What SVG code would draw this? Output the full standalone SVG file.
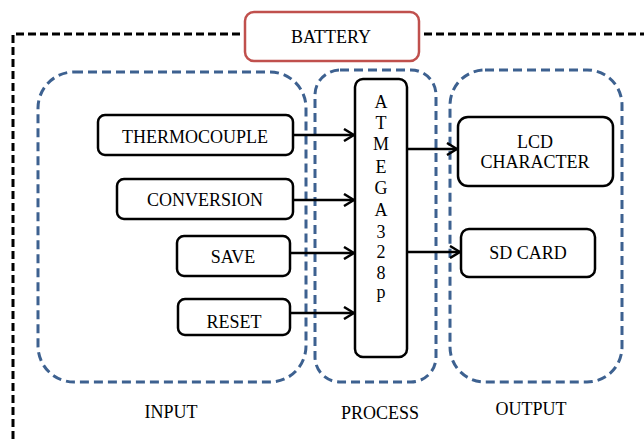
<svg xmlns="http://www.w3.org/2000/svg" width="644" height="439" viewBox="0 0 644 439">
<defs>
<style>
.t{font-family:"Liberation Serif","Times New Roman",serif;font-size:18px;fill:#000;text-anchor:middle}
.grp{fill:none;stroke:#3d6190;stroke-width:3;stroke-dasharray:9 5}
.node{fill:#fff;stroke:#000;stroke-width:2.5}
.conn{fill:none;stroke:#000;stroke-width:2.5}
</style>
<marker id="ah" viewBox="0 0 12 14" refX="11" refY="7" markerWidth="12" markerHeight="14" markerUnits="userSpaceOnUse" orient="auto">
<path d="M1,1 L11,7 L1,13" fill="none" stroke="#000" stroke-width="2.5"/>
</marker>
</defs>
<rect width="644" height="439" fill="#fff"/>
<g id="frame">
<path d="M13,439 L13,34 L644,34" fill="none" stroke="#000" stroke-width="3" stroke-dasharray="8 4"/>
</g>
<g id="groups">
<rect class="grp" x="38" y="72" width="268" height="310" rx="36" ry="36"/>
<rect class="grp" x="315" y="70" width="121" height="312" rx="25" ry="25"/>
<rect class="grp" x="450" y="70" width="172" height="312" rx="35" ry="35"/>
</g>
<g id="battery">
<rect x="245" y="12" width="174" height="49" rx="9" fill="#fff" stroke="#c0504d" stroke-width="2.5"/>
<text class="t" x="331" y="43">BATTERY</text>
</g>
<g id="connectors">
<line class="conn" x1="293" y1="135" x2="354" y2="135" marker-end="url(#ah)"/>
<line class="conn" x1="293" y1="200" x2="354" y2="200" marker-end="url(#ah)"/>
<line class="conn" x1="290" y1="253" x2="354" y2="253" marker-end="url(#ah)"/>
<line class="conn" x1="290" y1="313" x2="354" y2="313" marker-end="url(#ah)"/>
<line class="conn" x1="407" y1="149" x2="457" y2="149" marker-end="url(#ah)"/>
<line class="conn" x1="407" y1="252" x2="460" y2="252" marker-end="url(#ah)"/>
</g>
<g id="thermocouple">
<rect class="node" x="98" y="115" width="195" height="40" rx="7"/>
<text class="t" x="195" y="143">THERMOCOUPLE</text>
</g>
<g id="conversion">
<rect class="node" x="117" y="179" width="176" height="40" rx="7"/>
<text class="t" x="205" y="206">CONVERSION</text>
</g>
<g id="save">
<rect class="node" x="177" y="236" width="113" height="40" rx="7"/>
<text class="t" x="233" y="263">SAVE</text>
</g>
<g id="reset">
<rect class="node" x="178" y="299" width="112" height="36" rx="7"/>
<text class="t" x="234" y="328">RESET</text>
</g>
<g id="atmega">
<rect class="node" x="355" y="79" width="52" height="278" rx="8"/>
<text class="t" x="381" y="108">A</text>
<text class="t" x="381" y="129">T</text>
<text class="t" x="381" y="150">M</text>
<text class="t" x="381" y="173">E</text>
<text class="t" x="381" y="194">G</text>
<text class="t" x="381" y="216">A</text>
<text class="t" x="381" y="238">3</text>
<text class="t" x="381" y="258">2</text>
<text class="t" x="381" y="279">8</text>
<text class="t" x="381" y="298">p</text>
</g>
<g id="lcd">
<rect class="node" x="458" y="117" width="155" height="69" rx="10"/>
<text class="t" x="535" y="148">LCD</text>
<text class="t" x="535" y="168">CHARACTER</text>
</g>
<g id="sdcard">
<rect class="node" x="461" y="229" width="134" height="48" rx="8"/>
<text class="t" x="528" y="259">SD CARD</text>
</g>
<g id="labels">
<text class="t" x="171" y="418">INPUT</text>
<text class="t" x="380" y="419">PROCESS</text>
<text class="t" x="531" y="415">OUTPUT</text>
</g>
</svg>
